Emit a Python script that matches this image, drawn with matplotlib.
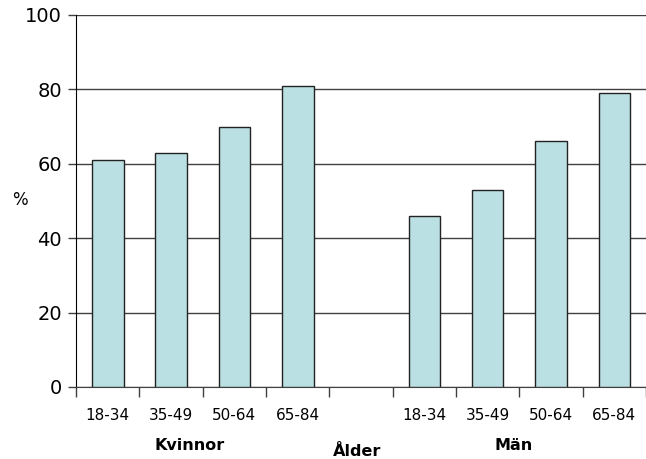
import numpy as np
import matplotlib.pyplot as plt

age_groups = ['18-34', '35-49', '50-64', '65-84']
kvinnor = [61, 63, 70, 81]
man = [46, 53, 66, 79]
y_ticks = [0, 20, 40, 60, 80, 100]

# women in slots 0-3, an empty slot, men in slots 5-8
labels = age_groups + [''] + age_groups
values = kvinnor + [np.nan] + man
x = np.arange(len(labels))

fig = plt.figure(figsize=(6.46, 4.59), dpi=100)
ax = fig.add_axes([76 / 646, 72 / 459, 570 / 646, 372 / 459])

ax.bar(x, values, width=0.5, color='#bbe0e3', edgecolor='#222222',
       linewidth=1.0, zorder=3)

ax.set_xlim(-0.5, len(labels) - 0.5)
ax.set_ylim(0, 100)
ax.set_yticks(y_ticks)
ax.yaxis.grid(True, color='#404040', linewidth=1.0, zorder=0)
ax.tick_params(axis='y', labelsize=14, length=6, width=1, pad=4, color='#404040')

# category boundaries carry the tick marks, labels sit in between
ax.set_xticks(np.arange(-0.5, len(labels), 1.0))
ax.set_xticklabels([])
ax.tick_params(axis='x', which='major', length=7, width=1, color='#404040')
ax.set_xticks(x, minor=True)
ax.set_xticklabels(labels, minor=True, fontsize=11)
ax.tick_params(axis='x', which='minor', length=0, pad=15)

for side in ['top', 'right']:
    ax.spines[side].set_visible(False)
ax.spines['left'].set_color('black')
ax.spines['bottom'].set_color('#404040')

fig.text(20 / 646, 1 - 200 / 459, '%', fontsize=12, ha='center', va='center')
fig.text(190 / 646, 1 - 446 / 459, 'Kvinnor', fontsize=11.5, fontweight='bold',
         ha='center', va='center')
fig.text(357 / 646, 1 - 452 / 459, 'Ålder', fontsize=11.5, fontweight='bold',
         ha='center', va='center')
fig.text(514 / 646, 1 - 446 / 459, 'Män', fontsize=11.5, fontweight='bold',
         ha='center', va='center')

fig.savefig('out.png', dpi=100)
